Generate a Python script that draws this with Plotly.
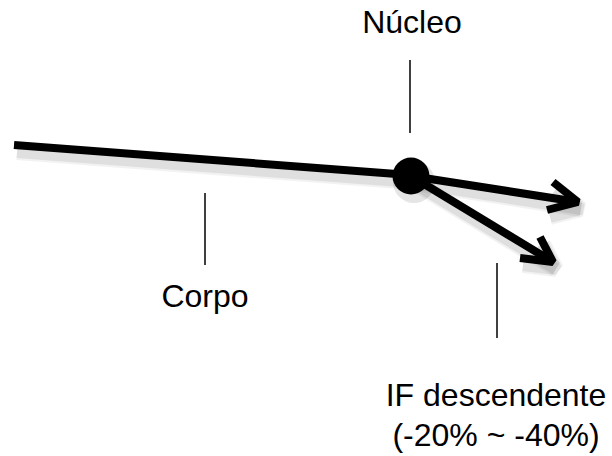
import plotly.graph_objects as go

# Diagram geometry (pixel coordinate space, y grows downward)
body_x = [14, 410]
body_y = [145, 175]
nucleus_x = [411]
nucleus_y = [176]
arrow1_x = [411, 578]
arrow1_y = [176, 202]
arrow1_head_x = [553, 578, 547]
arrow1_head_y = [182, 202, 210]
arrow2_x = [411, 553]
arrow2_y = [176, 262]
arrow2_head_x = [540, 553, 520]
arrow2_head_y = [237, 262, 258]
leader_nucleo = ([410, 410], [60, 133])
leader_corpo = ([205, 205], [193, 265])
leader_if = ([497, 497], [263, 338])

labels = ["Núcleo", "Corpo", "IF descendente", "(-20% ~ -40%)"]
label_x = [412, 205, 496, 496]
label_y = [25, 299, 398, 438]

fig = go.Figure()

thick = [(body_x, body_y), (arrow1_x, arrow1_y), (arrow1_head_x, arrow1_head_y),
         (arrow2_x, arrow2_y), (arrow2_head_x, arrow2_head_y)]

# soft shadows
for w, a in ((16, 0.05), (12, 0.08)):
    for xs, ys in thick:
        fig.add_trace(go.Scatter(x=[v + 3 for v in xs], y=[v + 7 for v in ys], mode="lines",
                                 line=dict(color=f"rgba(0,0,0,{a})", width=w),
                                 hoverinfo="skip", showlegend=False))
fig.add_trace(go.Scatter(x=[v + 3 for v in nucleus_x], y=[v + 6 for v in nucleus_y], mode="markers",
                         marker=dict(size=42, color="rgba(0,0,0,0.10)"),
                         hoverinfo="skip", showlegend=False))

for xs, ys in thick:
    fig.add_trace(go.Scatter(x=xs, y=ys, mode="lines",
                             line=dict(color="black", width=8),
                             hoverinfo="skip", showlegend=False))

fig.add_trace(go.Scatter(x=nucleus_x, y=nucleus_y, mode="markers",
                         marker=dict(size=37, color="black"),
                         hoverinfo="skip", showlegend=False))

for xs, ys in (leader_nucleo, leader_corpo, leader_if):
    fig.add_trace(go.Scatter(x=xs, y=ys, mode="lines",
                             line=dict(color="black", width=1.5),
                             hoverinfo="skip", showlegend=False))

fig.add_trace(go.Scatter(x=label_x, y=label_y, mode="text", text=labels,
                         textfont=dict(family="Liberation Sans, Arial", size=32, color="black"),
                         textposition="middle center",
                         hoverinfo="skip", showlegend=False))

fig.update_layout(
    width=612, height=456,
    margin=dict(l=0, r=0, t=0, b=0),
    paper_bgcolor="white", plot_bgcolor="white",
    xaxis=dict(range=[0, 612], visible=False, fixedrange=True),
    yaxis=dict(range=[456, 0], visible=False, fixedrange=True),
)

fig.write_html("out.html", config={"displayModeBar": False},
               post_script="document.body.style.margin='0';document.body.style.overflow='hidden';")
